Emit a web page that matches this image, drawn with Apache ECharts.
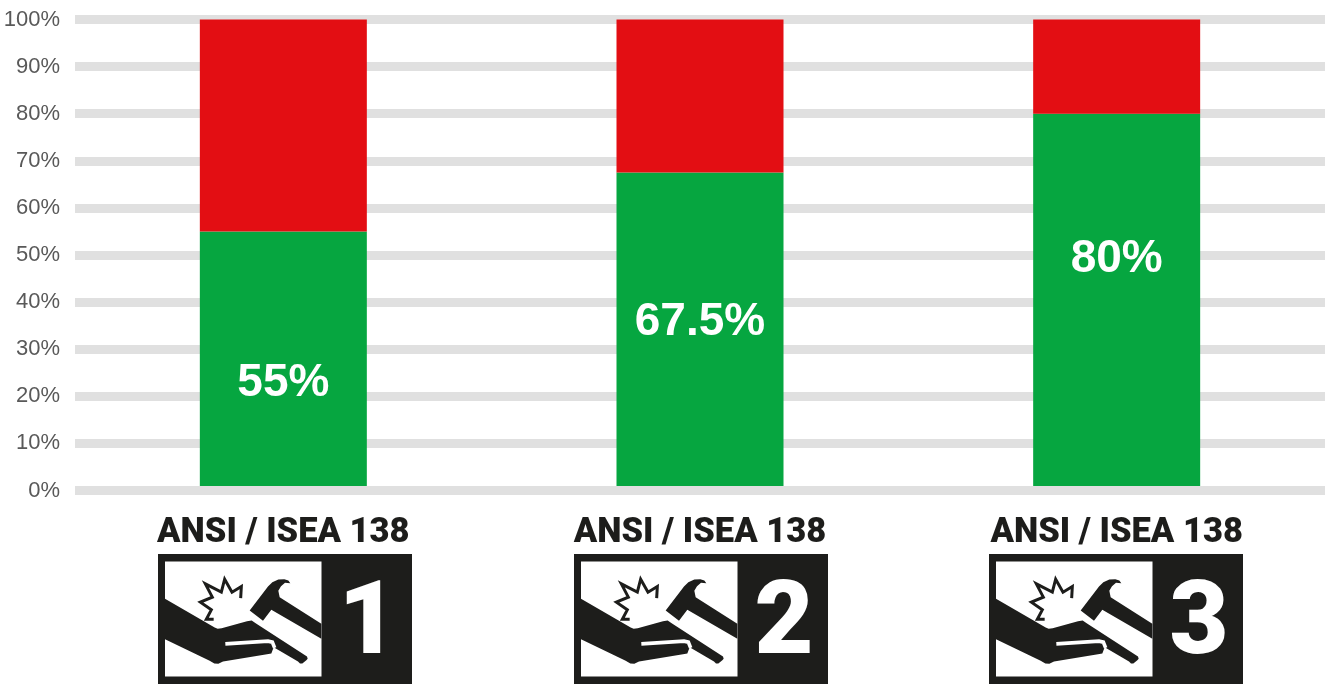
<!DOCTYPE html>
<html>
<head>
<meta charset="utf-8">
<style>
  html, body { margin: 0; padding: 0; background: #fff; }
  #chart { width: 1327px; height: 684px; }
</style>
<script src="https://cdn.jsdelivr.net/npm/echarts@6/dist/echarts.min.js"></script>
</head>
<body>
<div id="chart"></div>
<script>
// data
const categories = ['ANSI / ISEA 138', 'ANSI / ISEA 138', 'ANSI / ISEA 138'];
const passValues = [55, 67.5, 80];
const restValues = [45, 32.5, 20];
const badgeNumbers = ['1', '2', '3'];

// layout
const labelOffsets = [22, -9, -43];
const badgeLefts = [158, 574, 989];
const dark = '#1d1d1b';
const badgeFont = 'Roboto, "Liberation Sans", Arial, sans-serif';

// icon outlines, traced at 3x and scaled down in the group
const handPts = [[0,112],[149,198],[158,202],[170,200],[246,179],[260,177],[272,185],[426,285],[428,292],[424,296],[412,306],[405,306],[399,300],[326,257],[319,276],[306,278],[174,300],[160,307],[148,306],[134,298],[0,233]];
const hammerPts = [[254,147],[309,75],[322,62],[340,54],[358,53],[370,57],[376,65],[360,64],[348,74],[340,88],[344,107],[469,187],[469,232],[319,145],[294,178]];
const sparkPts = [[227,110],[229,75],[201,92],[179,53],[169,92],[121,67],[142,107],[106,122],[139,145],[124,173],[146,173]];
const slitPts = [[181,247],[309,239],[322,242],[329,259]];

function badge(left, num) {
  return {
    type: 'group',
    x: left,
    y: 554,
    silent: true,
    children: [
      { type: 'rect', shape: { x: 0, y: 0, width: 254, height: 130 }, style: { fill: dark } },
      { type: 'rect', shape: { x: 7, y: 7.5, width: 156.5, height: 115 }, style: { fill: '#fff' } },
      {
        type: 'group',
        x: 7,
        y: 7.5,
        scaleX: 1 / 3,
        scaleY: 1 / 3,
        children: [
          { type: 'polygon', shape: { points: handPts }, style: { fill: dark } },
          { type: 'polygon', shape: { points: hammerPts }, style: { fill: dark } },
          { type: 'polyline', shape: { points: sparkPts }, style: { fill: null, stroke: dark, lineWidth: 9 } },
          { type: 'polyline', shape: { points: slitPts }, style: { fill: null, stroke: '#fff', lineWidth: 11 } }
        ]
      },
      {
        type: 'text',
        x: 210,
        y: 73,
        style: {
          text: num,
          fill: '#fff',
          font: '900 102px ' + badgeFont,
          align: 'center',
          verticalAlign: 'middle'
        }
      }
    ]
  };
}

const chart = echarts.init(document.getElementById('chart'), null, { renderer: 'canvas' });

chart.setOption({
  animation: false,
  backgroundColor: '#fff',
  grid: { left: 75, right: 2, top: 19.5, bottom: 193.5, outerBoundsMode: 'none' },
  xAxis: {
    type: 'category',
    data: categories,
    z: 3,
    axisTick: { show: false },
    axisLine: { lineStyle: { color: '#e0e0e0', width: 9, cap: 'butt' } },
    axisLabel: {
      interval: 0,
      margin: 25,
      fontFamily: badgeFont,
      fontWeight: 900,
      fontSize: 34.5,
      color: dark
    }
  },
  yAxis: {
    type: 'value',
    min: 0,
    max: 100,
    interval: 10,
    axisLine: { show: false },
    axisTick: { show: false },
    splitLine: { lineStyle: { color: '#e0e0e0', width: 9, cap: 'butt' } },
    axisLabel: {
      margin: 15,
      formatter: '{value}%',
      fontFamily: '"Liberation Sans", Arial, sans-serif',
      fontSize: 22,
      color: '#595959'
    }
  },
  series: [
    {
      type: 'bar',
      stack: 'total',
      barWidth: 167,
      itemStyle: { color: '#06a640' },
      data: passValues.map((v, i) => ({
        value: v,
        label: { offset: [0, labelOffsets[i]] }
      })),
      label: {
        show: true,
        position: 'inside',
        formatter: '{c}%',
        fontFamily: '"Liberation Sans", Arial, sans-serif',
        fontWeight: 'bold',
        fontSize: 46,
        color: '#fff'
      }
    },
    {
      type: 'bar',
      stack: 'total',
      barWidth: 167,
      itemStyle: { color: '#e30e13' },
      data: restValues
    }
  ],
  graphic: badgeLefts.map((left, i) => badge(left, badgeNumbers[i]))
});
</script>
</body>
</html>
